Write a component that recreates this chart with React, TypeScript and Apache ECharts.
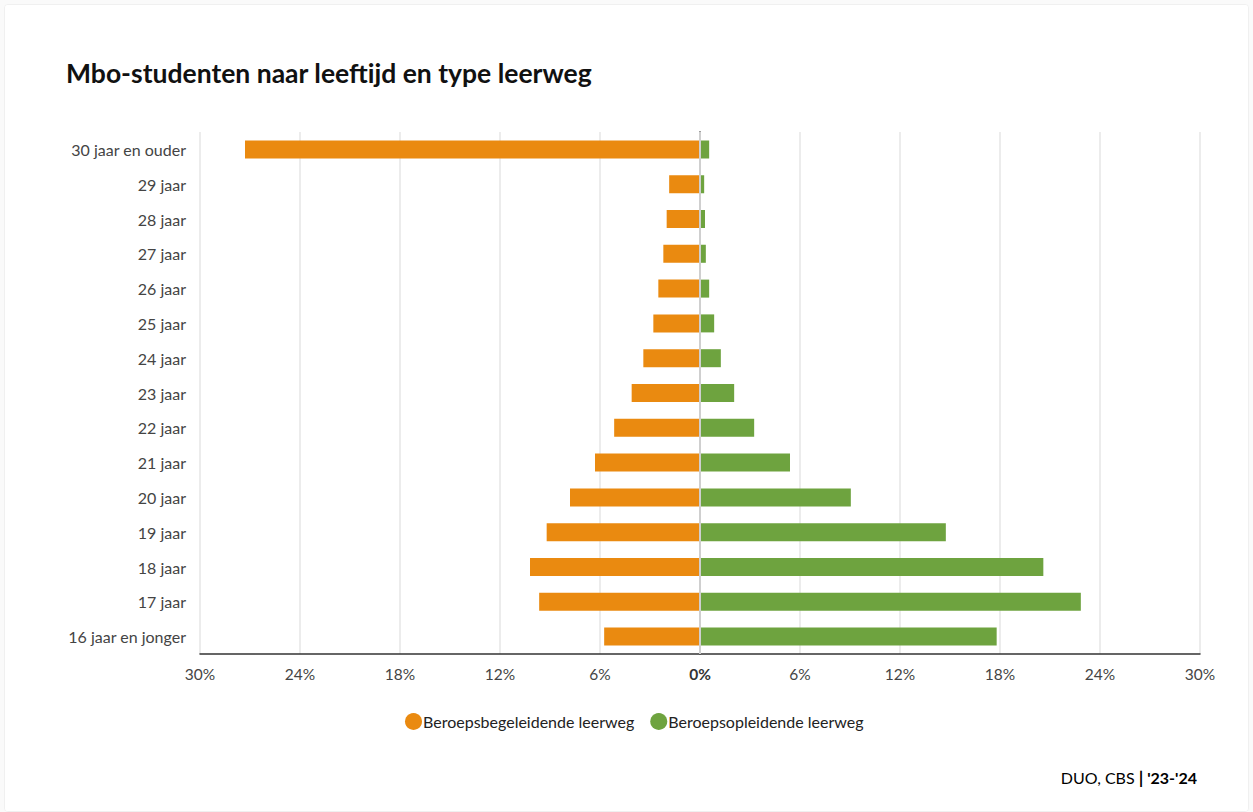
import React, { useEffect, useRef } from "react";
import * as echarts from "echarts";

const categories = [
  "30 jaar en ouder",
  "29 jaar",
  "28 jaar",
  "27 jaar",
  "26 jaar",
  "25 jaar",
  "24 jaar",
  "23 jaar",
  "22 jaar",
  "21 jaar",
  "20 jaar",
  "19 jaar",
  "18 jaar",
  "17 jaar",
  "16 jaar en jonger",
];
const bblValues = [27.3, 1.85, 2.0, 2.2, 2.5, 2.8, 3.4, 4.1, 5.15, 6.3, 7.8, 9.2, 10.2, 9.65, 5.75];
const bolValues = [0.55, 0.25, 0.3, 0.35, 0.55, 0.85, 1.25, 2.05, 3.25, 5.4, 9.05, 14.75, 20.6, 22.85, 17.8];
const seriesNames = ["Beroepsbegeleidende leerweg", "Beroepsopleidende leerweg"];
const colors = ["#EA8A10", "#6EA33F"];

const FONT = "Lato, 'Noto Sans', sans-serif";

export default function App() {
  const ref = useRef<HTMLDivElement>(null);
  useEffect(() => {
    document.body.style.margin = "0";
    const chart = echarts.init(ref.current!, null, { renderer: "svg" });
    chart.setOption({
      animation: false,
      backgroundColor: "#ffffff",
      textStyle: { fontFamily: FONT },
      title: {
        text: "Mbo-studenten naar leeftijd en type leerweg",
        left: 56,
        top: 49,
        textStyle: { fontSize: 26.5, fontWeight: "bold", color: "#111", fontFamily: FONT },
      },
      legend: {
        top: 703,
        left: 395,
        icon: "circle",
        itemWidth: 17,
        itemHeight: 17,
        itemGap: 16,
        textStyle: { fontSize: 16, color: "#222", fontFamily: FONT, padding: [0, 0, 0, -4] },
        data: seriesNames,
      },
      grid: { left: 195, right: 48, top: 127, bottom: 157, containLabel: false },
      xAxis: {
        type: "value",
        min: -30,
        max: 30,
        interval: 6,
        axisLine: { show: true, lineStyle: { color: "#333", width: 1.5 } },
        axisTick: { show: false },
        splitLine: { show: true, lineStyle: { color: "#e6e6e6", width: 1.5 } },
        axisLabel: {
          margin: 12,
          fontSize: 15.5,
          color: "#444",
          fontFamily: FONT,
          formatter: (v: number) => (v === 0 ? "{b|0%}" : Math.abs(v) + "%"),
          rich: { b: { fontWeight: "bold", fontSize: 15.5, color: "#333", fontFamily: FONT } },
        },
      },
      yAxis: {
        type: "category",
        data: categories,
        inverse: true,
        axisLine: { show: true, lineStyle: { color: "#111", width: 1.5 } },
        axisTick: { show: false },
        axisLabel: { margin: 14, fontSize: 16, color: "#444", fontFamily: FONT },
      },
      series: [
        {
          name: seriesNames[0],
          type: "bar",
          data: bblValues.map((v) => -v),
          barWidth: 18,
          barGap: "-100%",
          itemStyle: { color: colors[0] },
          markLine: {
            silent: true,
            symbol: "none",
            label: { show: false },
            lineStyle: { color: "#cfcfcf", width: 2, type: "solid" },
            data: [{ xAxis: 0 }],
            z: 10,
          },
        },
        {
          name: seriesNames[1],
          type: "bar",
          data: bolValues,
          barWidth: 18,
          barGap: "-100%",
          itemStyle: { color: colors[1] },
        },
      ],
      graphic: [
        {
          type: "text",
          right: 51,
          top: 763,
          style: {
            text: "{a|DUO, CBS }{c||}{b| '23-'24}",
            rich: {
              a: { fontSize: 16, color: "#111", fontFamily: FONT },
              c: { fontSize: 17.5, color: "#111", fontFamily: FONT, fontWeight: "bold" },
              b: { fontSize: 16, color: "#111", fontWeight: "bold", fontFamily: FONT },
            },
          },
        },
      ],
    });
    return () => chart.dispose();
  }, []);
  return (
    <div
      style={{
        width: 1253,
        height: 812,
        boxSizing: "border-box",
        padding: 4,
        background: "#fafafa",
      }}
    >
      <div
        style={{
          width: 1245,
          height: 808,
          boxSizing: "border-box",
          border: "1px solid #f0f0f0",
          borderRadius: 4,
          background: "#fff",
          overflow: "hidden",
        }}
      >
        <div ref={ref} style={{ width: 1243, height: 806 }} />
      </div>
    </div>
  );
}
